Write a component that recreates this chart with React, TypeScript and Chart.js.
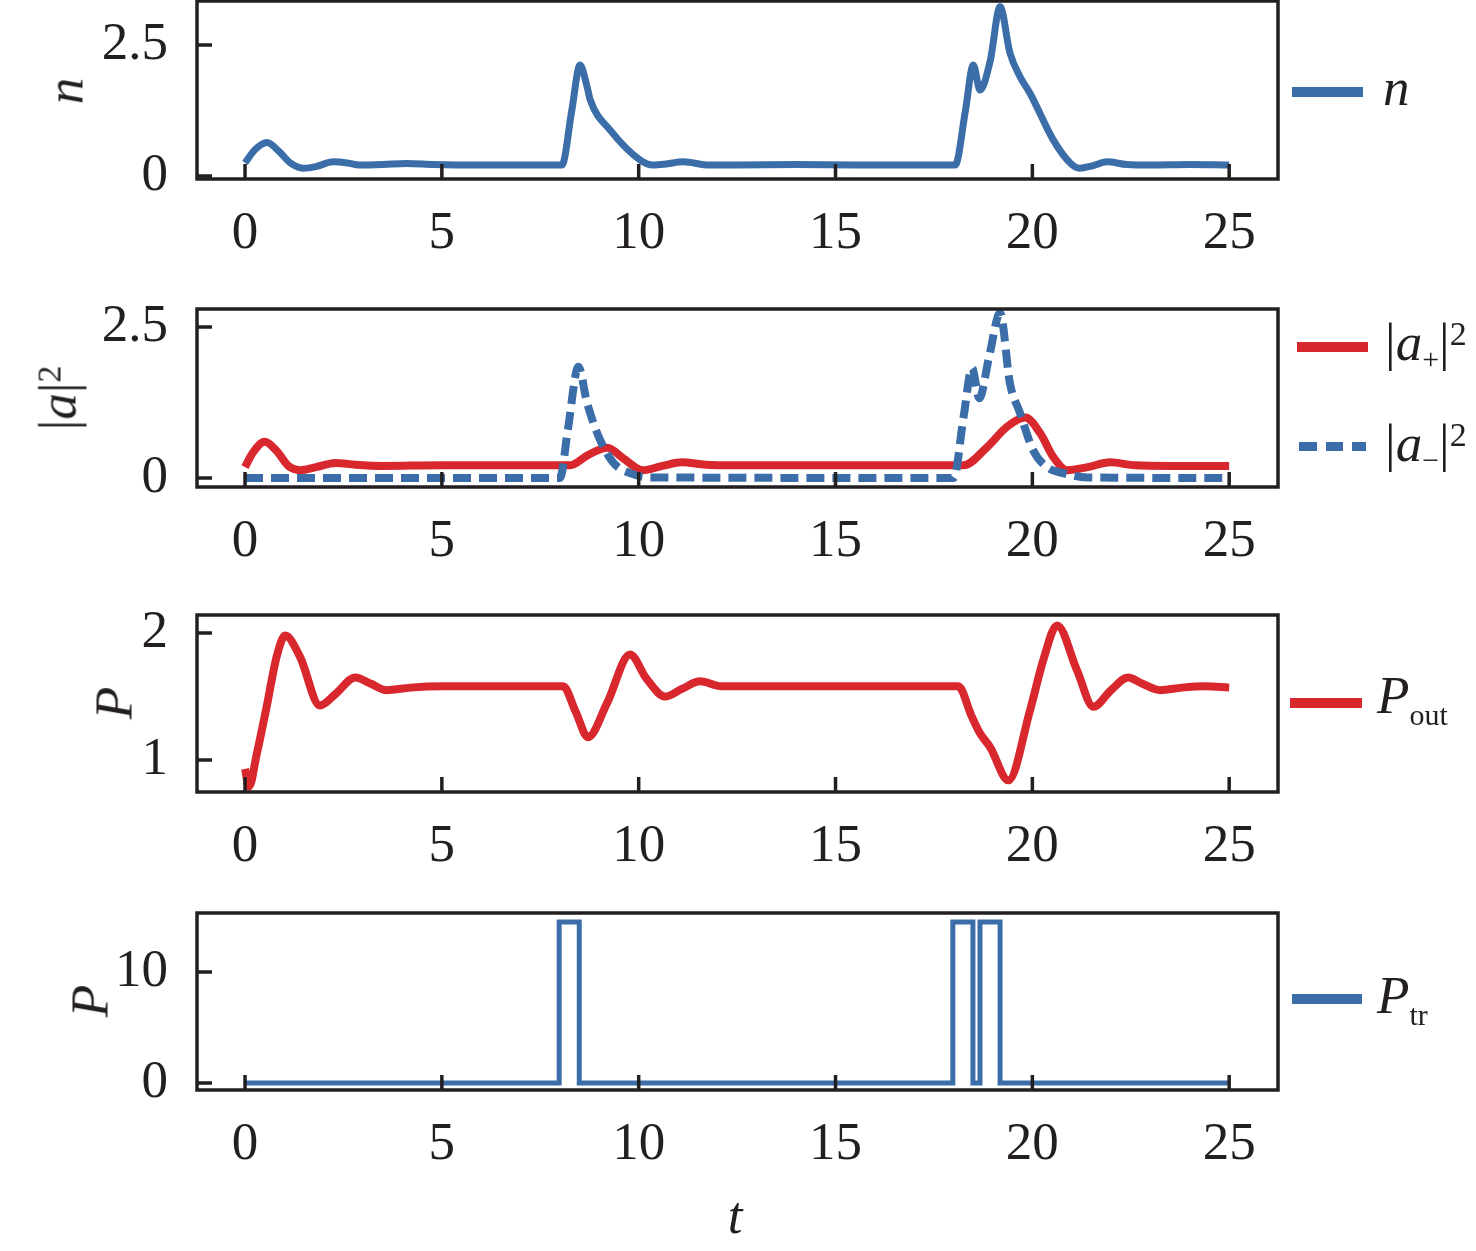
import React, { useEffect, useRef } from 'react';
import { Chart, registerables } from 'chart.js';
Chart.register(...registerables);

const BLUE = '#3b6ea8';
const RED = '#d9272e';
const INK = '#231f20';
const SERIF = '"Liberation Serif", "Times New Roman", Times, serif';
const FS = 53;

const PAGE_W = 1476;
const PLOT_LEFT = 197;
const PLOT_RIGHT = 1278;
const T_MIN = -1.22;
const T_MAX = 26.24;
const PAD_TOP = 20;
const X_H = 90;

// shared time ticks
const tTicks = [0, 5, 10, 15, 20, 25];

// panel 1: n
const nTicks = [0, 2.5];
const nT = [0, 0.25, 0.56, 0.85, 1.15, 1.48, 1.8, 2.24, 2.6, 2.9, 3.5, 4.1, 4.8, 6, 7, 8.05, 8.3, 8.51, 8.69, 8.77, 9.27, 10.03, 10.37, 10.7, 11.13, 11.8, 12.5, 14, 15.5, 17, 18.04, 18.3, 18.5, 18.67, 18.93, 19.18, 19.43, 19.69, 19.94, 20.53, 20.96, 21.2, 21.5, 21.9, 22.4, 23, 24, 25];
const nV = [0.25, 0.5, 0.64, 0.48, 0.25, 0.15, 0.18, 0.27, 0.25, 0.21, 0.22, 0.24, 0.22, 0.21, 0.21, 0.21, 1.25, 2.12, 1.7, 1.45, 0.88, 0.31, 0.21, 0.23, 0.27, 0.21, 0.21, 0.22, 0.21, 0.21, 0.21, 1.25, 2.12, 1.64, 2.2, 3.23, 2.35, 1.89, 1.58, 0.69, 0.25, 0.15, 0.19, 0.27, 0.22, 0.21, 0.22, 0.21];

// panel 2: |a+|^2 and |a-|^2
const aTicks = [0, 2.5];
const aPlusT = [0, 0.2, 0.5, 0.8, 1.1, 1.4, 1.8, 2.3, 2.8, 3.5, 5, 7, 8.26, 8.71, 9.2, 9.6, 10.1, 10.6, 11.1, 11.7, 12.5, 15, 18.25, 18.85, 19.36, 19.82, 20.2, 20.53, 20.88, 21.4, 21.98, 22.6, 23.5, 25];
const aPlusV = [0.18, 0.42, 0.6, 0.45, 0.2, 0.13, 0.18, 0.25, 0.22, 0.2, 0.21, 0.21, 0.21, 0.38, 0.5, 0.33, 0.13, 0.2, 0.26, 0.22, 0.21, 0.21, 0.21, 0.51, 0.85, 1.0, 0.74, 0.35, 0.13, 0.18, 0.26, 0.21, 0.2, 0.2];
const aMinusT = [0, 8.0, 8.2, 8.47, 8.69, 9.02, 9.36, 9.78, 10.3, 18.0, 18.25, 18.47, 18.65, 18.9, 19.18, 19.43, 19.69, 20.02, 20.37, 20.78, 21.4, 25];
const aMinusV = [0, 0, 0.8, 1.84, 1.24, 0.63, 0.25, 0.08, 0.01, 0, 1.0, 1.82, 1.32, 2.0, 2.73, 1.57, 1.07, 0.46, 0.18, 0.08, 0.01, 0];

// panel 3: P_out
const pTicks = [1, 2];
const pOutT = [0, 0.1, 0.3, 0.55, 0.8, 1.02, 1.4, 1.9, 2.3, 2.8, 3.2, 3.6, 4.2, 5, 6.5, 8.08, 8.4, 8.71, 9.2, 9.78, 10.2, 10.67, 11.1, 11.56, 12.1, 13, 15, 18.12, 18.45, 18.67, 18.93, 19.39, 19.94, 20.28, 20.63, 21.13, 21.55, 22.0, 22.43, 22.8, 23.25, 23.8, 24.4, 25];
const pOutV = [0.93, 0.79, 1.05, 1.42, 1.81, 1.98, 1.81, 1.43, 1.52, 1.65, 1.6, 1.55, 1.57, 1.58, 1.58, 1.58, 1.38, 1.18, 1.45, 1.83, 1.64, 1.5, 1.56, 1.62, 1.58, 1.58, 1.58, 1.58, 1.35, 1.21, 1.1, 0.84, 1.39, 1.79, 2.06, 1.71, 1.42, 1.55, 1.65, 1.6, 1.55, 1.57, 1.58, 1.57];

// panel 4: P_tr (step)
const trTicks = [0, 10];
const pTrT = [0, 7.98, 8.49, 17.98, 18.49, 18.67, 19.18, 25];
const pTrV = [0, 14.5, 0, 14.5, 0, 14.5, 0, 0];

const frame = {
  id: 'frame',
  afterDraw(chart: any) {
    const { ctx, chartArea: a, scales } = chart;
    ctx.save();
    ctx.strokeStyle = INK;
    ctx.lineWidth = 3.5;
    ctx.beginPath();
    scales.x.ticks.forEach((tk: any) => {
      const px = scales.x.getPixelForValue(tk.value);
      ctx.moveTo(px, a.bottom);
      ctx.lineTo(px, a.bottom - 15);
    });
    scales.y.ticks.forEach((tk: any) => {
      const py = scales.y.getPixelForValue(tk.value);
      ctx.moveTo(a.left, py);
      ctx.lineTo(a.left + 15, py);
    });
    ctx.stroke();
    ctx.strokeRect(a.left, a.top, a.right - a.left, a.bottom - a.top);
    ctx.restore();
  },
};

type Series = {
  t: number[];
  v: number[];
  color: string;
  width: number;
  dash?: number[];
  stepped?: boolean;
  order?: number;
};

interface PanelProps {
  top: number;
  bottom: number;
  yMin: number;
  yMax: number;
  yTicks: number[];
  series: Series[];
}

const Panel: React.FC<PanelProps> = ({ top, bottom, yMin, yMax, yTicks, series }) => {
  const ref = useRef<HTMLCanvasElement>(null);
  const h = PAD_TOP + (bottom - top) + X_H;

  useEffect(() => {
    if (!ref.current) return;
    const tickFont = { family: SERIF, size: FS };
    const chart = new Chart(ref.current, {
      type: 'line',
      data: {
        datasets: series.map((s) => ({
          data: s.t.map((t, i) => ({ x: t, y: s.v[i] })),
          borderColor: s.color,
          borderWidth: s.width,
          borderDash: s.dash || [],
          stepped: s.stepped || false,
          cubicInterpolationMode: 'monotone',
          borderJoinStyle: s.stepped ? 'miter' : 'round',
          borderCapStyle: 'butt',
          pointRadius: 0,
          fill: false,
          order: s.order ?? 0,
        })),
      },
      options: {
        animation: false,
        responsive: false,
        events: [],
        layout: { padding: { top: PAD_TOP, right: PAGE_W - PLOT_RIGHT, left: 0, bottom: 0 } },
        plugins: { legend: { display: false }, tooltip: { enabled: false } },
        scales: {
          x: {
            type: 'linear',
            min: T_MIN,
            max: T_MAX,
            grid: { display: false, drawTicks: false },
            border: { display: false },
            afterBuildTicks: (s: any) => {
              s.ticks = tTicks.map((v) => ({ value: v }));
            },
            afterFit: (s: any) => {
              s.height = X_H;
              s.paddingLeft = 0;
              s.paddingRight = 0;
            },
            ticks: {
              padding: 23,
              maxRotation: 0,
              autoSkip: false,
              color: INK,
              font: tickFont,
              callback: (v: any) => String(v),
            },
          },
          y: {
            type: 'linear',
            min: yMin,
            max: yMax,
            grid: { display: false, drawTicks: false },
            border: { display: false },
            afterBuildTicks: (s: any) => {
              s.ticks = yTicks.map((v) => ({ value: v }));
            },
            afterFit: (s: any) => {
              s.width = PLOT_LEFT;
              s.paddingTop = 0;
              s.paddingBottom = 0;
            },
            ticks: {
              padding: 29,
              autoSkip: false,
              color: INK,
              font: tickFont,
              callback: (v: any) => String(v),
            },
          },
        },
      },
      plugins: [frame],
    } as any);
    return () => chart.destroy();
  }, []);

  return (
    <canvas
      ref={ref}
      width={PAGE_W}
      height={h}
      style={{ position: 'absolute', left: 0, top: top - PAD_TOP, width: PAGE_W, height: h }}
    />
  );
};

// text placed by its baseline
const Txt: React.FC<{ left: number; base: number; size?: number; center?: boolean; children: React.ReactNode }> = ({
  left,
  base,
  size = FS,
  center,
  children,
}) => (
  <div
    style={{
      position: 'absolute',
      left,
      top: base - 0.8375 * size,
      fontSize: size,
      lineHeight: 1,
      whiteSpace: 'nowrap',
      transform: center ? 'translateX(-50%)' : undefined,
    }}
  >
    {children}
  </div>
);

const VTitle: React.FC<{ cx: number; cy: number; children: React.ReactNode }> = ({ cx, cy, children }) => (
  <div
    style={{
      position: 'absolute',
      left: cx,
      top: cy,
      fontSize: FS,
      lineHeight: 1,
      whiteSpace: 'nowrap',
      transform: 'translate(-50%, -50%) rotate(-90deg)',
    }}
  >
    {children}
  </div>
);

const Bar: React.FC<{ x1: number; x2: number; y: number; color: string; h?: number }> = ({ x1, x2, y, color, h = 10 }) => (
  <div style={{ position: 'absolute', left: x1, top: y - h / 2, width: x2 - x1, height: h, background: color }} />
);

const Sub: React.FC<{ size: number; shift: number; children: React.ReactNode }> = ({ size, shift, children }) => (
  <span style={{ fontSize: size, position: 'relative', top: shift }}>{children}</span>
);

export default function App() {
  return (
    <div
      style={{
        position: 'absolute',
        left: 0,
        top: 0,
        width: 1476,
        height: 1251,
        background: '#fff',
        fontFamily: SERIF,
        color: INK,
        overflow: 'hidden',
      }}
    >
      <Panel top={1} bottom={179} yMin={-0.057} yMax={3.34} yTicks={nTicks} series={[{ t: nT, v: nV, color: BLUE, width: 7 }]} />
      <Panel
        top={309}
        bottom={487}
        yMin={-0.149}
        yMax={2.798}
        yTicks={aTicks}
        series={[
          { t: aPlusT, v: aPlusV, color: RED, width: 8, order: 1 },
          { t: aMinusT, v: aMinusV, color: BLUE, width: 8, dash: [18, 8], order: 0 },
        ]}
      />
      <Panel top={615} bottom={792} yMin={0.748} yMax={2.142} yTicks={pTicks} series={[{ t: pOutT, v: pOutV, color: RED, width: 8 }]} />
      <Panel
        top={913}
        bottom={1090}
        yMin={-0.63}
        yMax={15.3}
        yTicks={trTicks}
        series={[{ t: pTrT, v: pTrV, color: BLUE, width: 5, stepped: true }]}
      />

      {/* y-axis titles */}
      <VTitle cx={65} cy={91}>
        <i>n</i>
      </VTitle>
      <VTitle cx={58} cy={398}>
        |<i>a</i>|<Sub size={34} shift={-15}>2</Sub>
      </VTitle>
      <VTitle cx={114} cy={703}>
        <i>P</i>
      </VTitle>
      <VTitle cx={90} cy={1001}>
        <i>P</i>
      </VTitle>

      {/* x-axis title */}
      <Txt left={735} base={1233} center>
        <i>t</i>
      </Txt>

      {/* legends */}
      <Bar x1={1292} x2={1363} y={92} color={BLUE} />
      <Txt left={1383} base={105}>
        <i>n</i>
      </Txt>

      <Bar x1={1297} x2={1368} y={347} color={RED} />
      <Txt left={1385} base={360}>
        |<i>a</i>
        <Sub size={30} shift={9}>+</Sub>|<Sub size={34} shift={-15}>2</Sub>
      </Txt>

      <Bar x1={1299} x2={1317} y={446} color={BLUE} h={9} />
      <Bar x1={1326} x2={1343} y={446} color={BLUE} h={9} />
      <Bar x1={1352} x2={1366} y={446} color={BLUE} h={9} />
      <Txt left={1385} base={461}>
        |<i>a</i>
        <Sub size={30} shift={9}>−</Sub>|<Sub size={34} shift={-15}>2</Sub>
      </Txt>

      <Bar x1={1290} x2={1362} y={703} color={RED} />
      <Txt left={1377} base={713}>
        <i>P</i>
        <Sub size={30} shift={12}>out</Sub>
      </Txt>

      <Bar x1={1292} x2={1362} y={999} color={BLUE} />
      <Txt left={1377} base={1013}>
        <i>P</i>
        <Sub size={30} shift={12}>tr</Sub>
      </Txt>
    </div>
  );
}
